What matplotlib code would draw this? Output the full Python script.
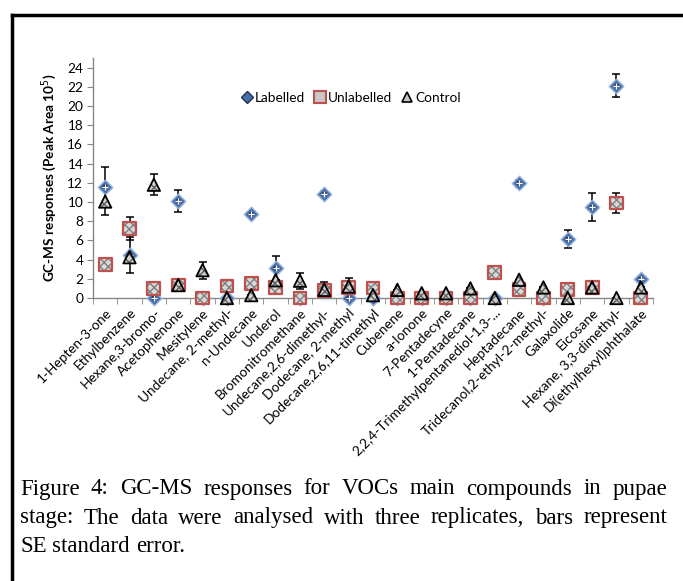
import matplotlib
matplotlib.use("Agg")
import matplotlib.pyplot as plt
from matplotlib.lines import Line2D
import numpy as np

categories = ["1-Hepten-3-one", "Ethylbenzene", "Hexane,3-bromo-", "Acetophenone", "Mesitylene",
              "Undecane, 2-methyl-", "n-Undecane", "Underol", "Bromonitromethane",
              "Undecane,2,6-dimethyl-", "Dodecane, 2-methyl", "Dodecane,2,6,11-timethyl",
              "Cubenene", "a-Ionone", "7-Pentadecyne", "1-Pentadecane",
              "2,2,4-Trimethylpentanediol-1,3-...", "Heptadecane", "Tridecanol,2-ethyl-2-methyl-",
              "Galaxolide", "Eicosane", "Hexane, 3,3-dimethyl-", "Di(ethylhexyl)phthalate"]

labelled = [11.6, 4.5, 0, 10.1, 0, 0, 8.75, 3.1, 0, 10.85, 0, 0, 0, 0, 0, 0, 0, 11.95, 0, 6.15, 9.45, 22.1, 1.95]
labelled_err = [2.0, 1.9, 0, 1.1, 0, 0, 0.2, 1.3, 0, 0.3, 0, 0, 0, 0, 0, 0, 0, 0.35, 0, 0.9, 1.45, 1.2, 0.2]
unlabelled = [3.5, 7.25, 0.95, 1.35, 0, 1.25, 1.55, 1.1, 0, 0.75, 1.1, 1.05, 0, 0, 0, 0, 2.65, 0.85, 0, 0.85, 1.1, 9.9, 0]
unlabelled_err = [0, 1.2, 0, 0, 0, 0, 0, 0, 0, 0, 0, 0, 0, 0, 0, 0, 0, 0, 0, 0, 0, 1.0, 0]
control = [10.05, 4.25, 11.8, 1.35, 2.9, 0, 0.3, 1.85, 1.8, 0.85, 1.2, 0.3, 0.85, 0.5, 0.5, 1.0, 0, 1.9, 1.1, 0, 1.1, 0, 1.1]
control_err = [1.45, 0, 1.1, 0, 0.9, 0, 0, 0, 0.85, 0.85, 0.9, 0, 0, 0, 0, 0, 0, 0, 0, 0, 0, 0, 0]

legend_labels = ["Labelled", "Unlabelled", "Control"]
yticks = list(range(0, 25, 2))
caption_lines = ["Figure 4: GC-MS responses for VOCs main compounds in pupae",
                 "stage: The data were analysed with three replicates, bars represent",
                 "SE standard error."]

W, H = 683, 581
fig = plt.figure(figsize=(W / 100, H / 100), dpi=100)
fig.patch.set_facecolor("white")

ax = fig.add_axes([93 / W, (H - 298) / H, (653 - 93) / W, (298 - 58) / H])
x = np.arange(len(categories))
font = "Lato"
spine_c = "#868686"

# error bars
for vals, errs in [(labelled, labelled_err), (unlabelled, unlabelled_err), (control, control_err)]:
    ax.errorbar(x, vals, yerr=errs, fmt="none", ecolor="black", elinewidth=1.1, capsize=3, capthick=1.1,
                zorder=2, clip_on=False)

# labelled: blue diamond with white cross
ax.scatter(x, labelled, marker="D", s=55, facecolor="#4a6ea8", edgecolor="#9bb7dd", linewidths=1.0, zorder=3, clip_on=False)
ax.scatter(x, labelled, marker="o", s=12, facecolor="#1f2f55", edgecolor="none", zorder=3.1, clip_on=False)
ax.scatter(x, labelled, marker="+", s=18, color="white", linewidths=0.9, zorder=3.2, clip_on=False)

# unlabelled: red-bordered hatched square
ax.scatter(x, unlabelled, marker="s", s=85, facecolor="#d8d8d8", edgecolor="#7f7f7f", hatch="xxxx", linewidths=0, zorder=4, clip_on=False)
ax.scatter(x, unlabelled, marker="s", s=85, facecolor="none", edgecolor="#c0504d", linewidths=1.6, zorder=4.1, clip_on=False)

# control: black hatched triangle
ax.scatter(x, control, marker="^", s=80, facecolor="#d0d0d0", edgecolor="#606060", hatch="xxxx", linewidths=0, zorder=5, clip_on=False)
ax.scatter(x, control, marker="^", s=80, facecolor="none", edgecolor="black", linewidths=1.3, zorder=5.1, clip_on=False)

ax.set_xlim(-0.5, len(categories) - 0.5)
ax.set_ylim(0, 25)
ax.set_yticks(yticks)
ax.set_yticklabels([str(v) for v in yticks], fontsize=9.8, family=font)
ax.set_xticks(x)
ax.set_xticklabels(categories, rotation=45, ha="right", rotation_mode="anchor", fontsize=9.8, family=font)
ax.set_xticks(np.arange(len(categories) + 1) - 0.5, minor=True)
ax.tick_params(axis="x", which="major", length=0, pad=6)
ax.tick_params(axis="x", which="minor", length=4, color=spine_c, direction="out")
ax.tick_params(axis="y", length=4, color=spine_c, direction="out", pad=3)
for s in ["top", "right"]:
    ax.spines[s].set_visible(False)
for s in ["left", "bottom"]:
    ax.spines[s].set_color(spine_c)
    ax.spines[s].set_linewidth(1.0)

ax.set_ylabel("GC-MS responses (Peak Area 10$^5$)", fontsize=9.8, fontweight="bold", family=font, labelpad=6)

handles = [
    Line2D([], [], marker="D", linestyle="none", markersize=6, markerfacecolor="#4a6ea8", markeredgecolor="#1f2f55"),
    Line2D([], [], marker="s", linestyle="none", markersize=8, markerfacecolor="#c8c8c8", markeredgecolor="#c0504d", markeredgewidth=1.5),
    Line2D([], [], marker="^", linestyle="none", markersize=7, markerfacecolor="#c8c8c8", markeredgecolor="black", markeredgewidth=1.2),
]
ax.legend(handles, legend_labels, ncol=3, frameon=False, loc="center", bbox_to_anchor=(0.46, 0.835),
          handletextpad=0.1, columnspacing=0.6, handlelength=1.0, prop={"family": font, "size": 9.8})

# frame lines
fig.add_artist(Line2D([12 / W, 1.0], [1 - 15 / H, 1 - 15 / H], color="black", linewidth=2.5, transform=fig.transFigure))
fig.add_artist(Line2D([12 / W, 12 / W], [0, 1 - 15 / H], color="black", linewidth=2.5, transform=fig.transFigure))

# justified caption
renderer = fig.canvas.get_renderer()
left_px, right_px = 20, 667
line_y = [489, 518, 547]
fs = 16.5
sp_a = fig.text(0, 0, "a b", fontsize=fs, family="Liberation Serif")
sp_b = fig.text(0, 0, "ab", fontsize=fs, family="Liberation Serif")
space_w = sp_a.get_window_extent(renderer).width - sp_b.get_window_extent(renderer).width
sp_a.remove(); sp_b.remove()
for li, (line, yy) in enumerate(zip(caption_lines, line_y)):
    words = line.split(" ")
    texts = [fig.text(0, 1 - yy / H, w, fontsize=fs, family="Liberation Serif", va="center", ha="left") for w in words]
    widths = [t.get_window_extent(renderer).width for t in texts]
    if li < len(caption_lines) - 1 and len(words) > 1:
        gap = (right_px - left_px - sum(widths)) / (len(words) - 1)
    else:
        gap = space_w
    pos = left_px
    for t, w in zip(texts, widths):
        t.set_x(pos / W)
        pos += w + gap

fig.savefig("out.png", dpi=100, facecolor="white")
